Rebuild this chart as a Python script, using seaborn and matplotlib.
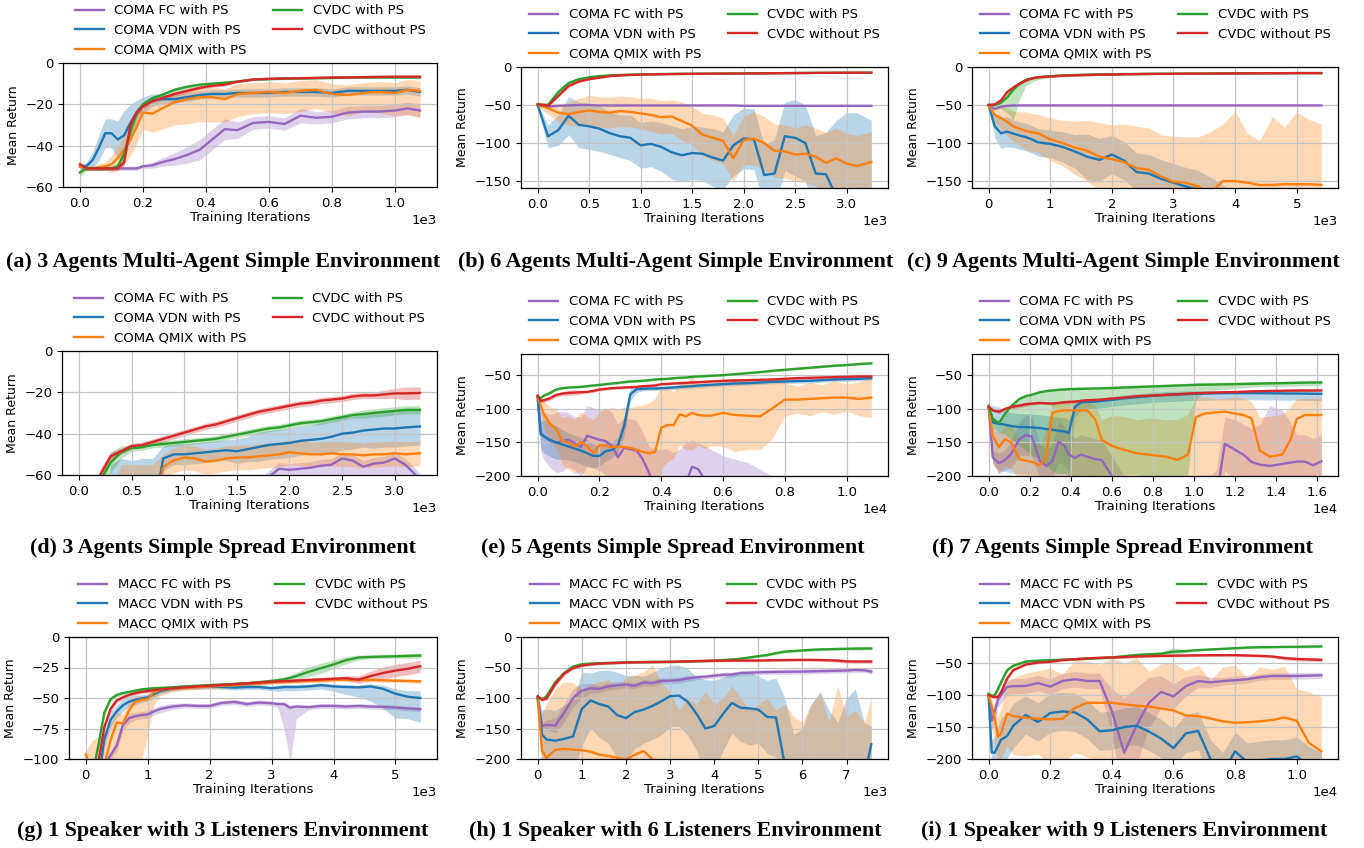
import matplotlib
matplotlib.use("Agg")
import matplotlib.pyplot as plt
import seaborn as sns
import numpy as np

# ---------------------------------------------------------------- labels
COMA_LABELS = ["COMA FC with PS", "COMA VDN with PS", "COMA QMIX with PS",
               "CVDC with PS", "CVDC without PS"]
MACC_LABELS = ["MACC FC with PS", "MACC VDN with PS", "MACC QMIX with PS",
               "CVDC with PS", "CVDC without PS"]
COLORS = ["tab:purple", "tab:blue", "tab:orange", "tab:green", "tab:red"]

CAPTIONS = [
    "(a) 3 Agents Multi-Agent Simple Environment",
    "(b) 6 Agents Multi-Agent Simple Environment",
    "(c) 9 Agents Multi-Agent Simple Environment",
    "(d) 3 Agents Simple Spread Environment",
    "(e) 5 Agents Simple Spread Environment",
    "(f) 7 Agents Simple Spread Environment",
    "(g) 1 Speaker with 3 Listeners Environment",
    "(h) 1 Speaker with 6 Listeners Environment",
    "(i) 1 Speaker with 9 Listeners Environment",
]

# ---------------------------------------------------------------- (a)
X_A = [0, 20, 40, 60, 80, 100, 120, 140, 160, 180, 200, 230, 260, 300, 340,
       380, 420, 460, 500, 550, 600, 650, 700, 750, 800, 850, 900, 950, 1000, 1040, 1080]
A_FC = [-50, -51, -51, -51, -51, -51, -51, -51, -51, -51, -50, -49.5, -48, -46.5, -44.5,
        -42, -37, -32, -32.5, -29, -28.5, -29.5, -25.5, -26.5, -26, -24, -23.5, -23.5, -23, -22, -23]
A_FC_SD = [1, 1, 1, 1, 1, 1, 1, 1, 1, 1, 1, 1.5, 2, 3, 4,
           5, 5, 5, 4, 3, 3, 3, 3.5, 3, 3, 3, 3, 3, 3, 3, 3]
A_VDN = [-50, -50, -47, -41, -34, -34, -37, -35, -29, -24, -20.5, -18, -17.5, -17.5, -16.5,
         -15.5, -15, -15, -14.5, -14.5, -14.5, -14, -14, -14, -14.5, -13.5, -13.5, -13.5, -13.5, -13, -14]
A_VDN_SD = [1, 2, 4, 6, 7, 7, 9, 12, 9, 6, 4, 3, 2.5, 2, 2,
            2, 2, 2, 2, 2, 2, 2, 2, 2, 2, 2, 2, 2, 2, 2, 2]
A_QMIX = [-50, -51, -51, -50.5, -50, -49, -46, -42, -37, -31, -24, -24.5, -22, -19, -17.5,
          -16.5, -16.5, -17.5, -15, -14.5, -14, -14.5, -13.5, -13, -15, -15.5, -14.5, -14, -14.5, -13, -13.5]
A_QMIX_UP = [1, 1, 1, 1.5, 2, 4, 6, 7, 8, 7, 6, 5, 5, 5, 5,
             5, 5, 5, 5, 5, 5, 5, 5, 5, 5, 5, 5, 5, 5, 5, 5]
A_QMIX_DOWN = [1, 1, 1, 1.5, 2, 4, 6, 7, 8, 8, 8, 9, 10, 11, 12,
               12, 12, 11, 11, 10, 10, 10, 10, 9, 9, 10, 9, 10, 11, 12, 13]
A_CVDC = [-53, -51, -51, -51, -51, -51, -50, -44, -33, -24, -20, -17, -15.5, -13, -11.5,
          -10.5, -10, -9.5, -9, -8, -7.8, -7.5, -7.5, -7.3, -7.2, -7, -7, -7, -7, -7, -7]
A_CVDC_SD = [2, 1, 1, 1, 1, 1, 1, 2, 3, 2, 1.5, 1, 1, 1, 1,
             0.8, 0.8, 0.7, 0.6, 0.5, 0.5, 0.5, 0.5, 0.5, 0.5, 0.5, 0.5, 0.5, 0.5, 0.5, 0.5]
A_NOPS = [-49, -51, -51, -51, -51, -51, -51, -48, -30, -24, -21, -18.5, -17, -15, -13.5,
          -12, -11, -10.5, -9, -8, -7.6, -7.5, -7.3, -7.2, -7, -7, -6.8, -6.7, -6.6, -6.6, -6.6]
A_NOPS_SD = [1, 1, 1, 1, 1, 1, 1, 2, 3, 2, 1.5, 1, 1, 1, 1,
             0.8, 0.8, 0.7, 0.6, 0.5, 0.5, 0.5, 0.5, 0.5, 0.5, 0.5, 0.5, 0.5, 0.5, 0.5, 0.5]

# ---------------------------------------------------------------- (b) and (d) share x
X_BD = [0, 100, 200, 300, 400, 500, 600, 700, 800, 900, 1000, 1100, 1200, 1300, 1400, 1500,
        1600, 1700, 1800, 1900, 2000, 2100, 2200, 2300, 2400, 2500, 2600, 2700, 2800, 2900,
        3000, 3100, 3240]
B_FC = [-50, -52, -51, -50.5, -50, -50, -50.5, -50.5, -50.5, -50.5, -50.5, -50.5, -50.5, -50.5,
        -50.5, -50.5, -50.5, -50.5, -50.5, -50.5, -51, -51, -51, -51, -51, -51, -51, -51, -51,
        -51, -51, -51, -51]
B_FC_SD = [0.5, 1, 1, 0.8, 0.7, 0.7, 0.7, 0.7, 0.7, 0.7, 0.7, 0.7, 0.7, 0.7, 0.7, 0.7,
           0.7, 0.7, 0.7, 0.7, 0.7, 0.7, 0.7, 0.7, 0.7, 0.7, 0.7, 0.7, 0.7, 0.7, 0.7, 0.7, 0.7]
B_VDN = [-50, -91, -83, -64, -76, -78, -81, -87, -91, -93, -103, -101, -105, -112, -116, -113,
         -114, -119, -123, -103, -94, -95, -142, -140, -91, -93, -100, -140, -141, -170,
         -190, -200, -200]
B_VDN_SD = [2, 15, 20, 25, 30, 30, 30, 28, 28, 30, 30, 30, 32, 35, 35, 35,
            35, 38, 38, 40, 40, 40, 40, 45, 45, 50, 50, 50, 55, 100, 130, 140, 130]
B_QMIX = [-50, -54, -60, -62, -59, -57, -59, -60, -58, -59, -61, -63, -66, -65, -71, -77,
          -89, -93, -97, -120, -96, -94, -100, -110, -111, -115, -114, -118, -126, -120,
          -127, -130, -125]
B_QMIX_SD = [2, 8, 12, 15, 18, 20, 20, 20, 20, 20, 20, 22, 22, 22, 25, 25,
             28, 30, 30, 30, 32, 35, 35, 35, 35, 35, 38, 38, 40, 40, 40, 40, 40]
B_CVDC = [-49, -50, -33, -21, -16, -13.5, -12, -11, -10.5, -10, -9.7, -9.5, -9.3, -9.1, -9,
          -8.9, -8.8, -8.7, -8.6, -8.5, -8.4, -8.3, -8.2, -8.1, -8, -7.9, -7.8, -7.7, -7.6,
          -7.6, -7.5, -7.5, -7.5]
B_CVDC_SD = [1, 1, 2, 2, 1.5, 1, 1, 0.8, 0.8, 0.8, 0.8, 0.8, 0.8, 0.8, 0.8, 0.8,
             0.8, 0.8, 0.8, 0.8, 0.8, 0.8, 0.8, 0.8, 0.8, 0.8, 0.8, 0.8, 0.8, 0.8, 0.8, 0.8, 0.8]
B_NOPS = [-49, -51, -38, -25, -19, -16, -14, -12, -11, -10.5, -10, -9.7, -9.5, -9.3, -9.1,
          -9, -8.9, -8.8, -8.7, -8.6, -8.5, -8.4, -8.3, -8.2, -8.1, -8, -7.9, -7.8, -7.7,
          -7.6, -7.5, -7.5, -7.4]
B_NOPS_SD = [1, 1, 2, 2, 1.5, 1, 1, 0.8, 0.8, 0.8, 0.8, 0.8, 0.8, 0.8, 0.8, 0.8,
             0.8, 0.8, 0.8, 0.8, 0.8, 0.8, 0.8, 0.8, 0.8, 0.8, 0.8, 0.8, 0.8, 0.8, 0.8, 0.8, 0.8]

# ---------------------------------------------------------------- (c)
X_C = [0, 100, 200, 300, 400, 500, 600, 700, 800, 1000, 1200, 1400, 1600, 1800, 2000,
       2200, 2400, 2600, 2800, 3000, 3200, 3400, 3600, 3800, 4000, 4200, 4400, 4600, 4800,
       5000, 5200, 5400]
C_FC = [-50, -55, -52, -51, -50.5, -50.5, -50.5, -50.5, -50.5, -50.5, -50.5, -50.5, -50.5,
        -50.5, -50.5, -50.5, -50.5, -50.5, -50.5, -50.5, -50.5, -50.5, -50.5, -50.5, -50.5,
        -50.5, -50.5, -50.5, -50.5, -50.5, -50.5, -50.5]
C_FC_SD = [0.5, 2, 1.5, 1, 0.6, 0.6, 0.6, 0.6, 0.6, 0.6, 0.6, 0.6, 0.6, 0.6, 0.6, 0.6,
           0.6, 0.6, 0.6, 0.6, 0.6, 0.6, 0.6, 0.6, 0.6, 0.6, 0.6, 0.6, 0.6, 0.6, 0.6, 0.6]
C_VDN = [-50, -78, -87, -85, -87.5, -90, -92, -95, -99, -101, -105, -111, -118, -122, -115,
         -123, -138, -140, -147, -152, -157, -161, -170, -180, -190, -200, -205, -210, -215,
         -220, -220, -220]
C_VDN_SD = [2, 15, 20, 20, 18, 18, 18, 18, 18, 18, 20, 22, 30, 28, 25, 25,
            25, 25, 25, 25, 25, 25, 25, 25, 25, 25, 25, 25, 25, 25, 25, 25]
C_QMIX = [-50, -63, -67, -72, -78, -81, -84, -86, -87, -95, -100, -106, -110, -118, -121,
          -125, -133, -135, -144, -151, -152, -157, -165, -150, -150, -152, -155, -155, -154,
          -154, -154, -155]
C_QMIX_SD = [2, 10, 15, 18, 20, 22, 25, 25, 25, 28, 30, 35, 40, 45, 45, 50,
             55, 55, 55, 60, 60, 65, 80, 75, 92, 65, 58, 90, 75, 95, 85, 80]
C_CVDC = [-50, -50, -47, -40, -30, -22, -17, -15, -13.5, -12, -11, -10.5, -10, -9.8, -9.5,
          -9.3, -9.2, -9, -8.9, -8.8, -8.7, -8.6, -8.5, -8.4, -8.3, -8.2, -8.2, -8.1, -8.1,
          -8, -8, -8]
C_CVDC_UP = [1, 1, 2, 3, 3, 3, 2, 1.5, 1, 1, 1, 1, 1, 1, 1, 1,
             1, 1, 1, 1, 1, 1, 1, 1, 1, 1, 1, 1, 1, 1, 1, 1]
C_CVDC_DOWN = [1, 2, 8, 20, 40, 20, 8, 5, 3, 2, 2, 1.5, 1.5, 1.5, 1, 1,
               1, 1, 1, 1, 1, 1, 1, 1, 1, 1, 1, 1, 1, 1, 1, 1]
C_NOPS = [-50, -49, -44, -33, -27, -22, -18, -15, -13.5, -12.5, -11.5, -11, -10.5, -10, -10,
          -9.5, -9.3, -9.1, -9, -8.9, -8.8, -8.7, -8.6, -8.5, -8.4, -8.3, -8.2, -8.2, -8.1,
          -8, -8, -8]
C_NOPS_SD = [1, 1, 2, 3, 3, 2, 1.5, 1, 1, 1, 1, 1, 1, 1, 1, 1,
             1, 1, 1, 1, 1, 1, 1, 1, 1, 1, 1, 1, 1, 1, 1, 1]

# ---------------------------------------------------------------- (d)
D_FC = [-200, -190, -180, -170, -160, -150, -140, -130, -120, -110, -100, -95, -90, -85,
        -80, -75, -70, -66, -61, -57, -57.5, -57, -56.5, -55.5, -55, -52, -53, -56, -54.5,
        -54, -52, -55, -62]
D_FC_UP = [3, 3, 3, 3, 3, 3, 3, 3, 3, 3, 3, 3, 3, 3, 3, 3,
           3, 3, 3, 3, 3, 3, 3, 3, 3, 3, 3, 3, 3, 3, 3, 3, 3]
D_FC_DOWN = [10, 10, 10, 10, 10, 10, 10, 10, 10, 10, 10, 10, 10, 10, 10, 10,
             10, 10, 8, 8, 8, 8, 8, 8, 8, 10, 10, 8, 8, 8, 10, 10, 10]
D_VDN = [-150, -140, -130, -115, -100, -95, -90, -80, -52, -50, -50, -49.5, -49, -48.5, -48,
         -48.5, -47.5, -46.5, -45.5, -45, -44.5, -43.5, -43, -42.5, -41.5, -40, -39.5, -38.5,
         -38, -37.5, -37.5, -37, -36.5]
D_VDN_SD = [5, 10, 20, 60, 48, 42, 38, 28, 6, 5, 5, 5, 5, 5, 5, 6,
            6, 7, 7, 7, 7, 7, 7, 8, 8, 8, 8, 8, 9, 9, 9, 9, 9]
D_QMIX = [-160, -150, -130, -110, -100, -95, -90, -85, -56, -53, -51.5, -52, -53.5, -53, -52,
          -51.5, -51.5, -51, -50.5, -50, -49, -49.5, -50, -50, -49.5, -50, -50, -50.5, -50,
          -50, -49.5, -50, -49.5]
D_QMIX_SD = [5, 5, 10, 40, 45, 40, 35, 30, 6, 6, 6, 6, 6, 6, 6, 6,
             6, 6, 6, 6, 6, 6, 6, 6, 6, 6, 6, 6, 6, 6, 6, 6, 6]
D_CVDC = [-120, -90, -63, -54, -49, -47, -46.5, -45.5, -45, -44.5, -44, -43.5, -43, -42.5,
          -41.5, -40.5, -39.5, -38.5, -37.5, -37, -36, -35, -34.5, -34, -33, -32, -31, -30.5,
          -30, -29.5, -29, -28.5, -28.5]
D_CVDC_SD = [3, 3, 4, 5, 3, 1.5, 1.5, 1.5, 1.5, 1.5, 1.5, 1.5, 1.5, 1.5, 1.5, 1.5,
             1.5, 1.5, 1.5, 1.5, 1.5, 1.5, 1.5, 1.5, 1.5, 1.5, 1.5, 2, 2, 2, 2, 2, 2]
D_NOPS = [-120, -85, -60, -51, -48.5, -46, -45.5, -44, -42.5, -41, -39.5, -38, -36.5, -35.5,
          -34, -32.5, -31, -29.5, -28.5, -27.5, -26.5, -25.5, -25, -24, -23.5, -23, -22,
          -21.5, -21.5, -21, -20.5, -20.5, -20.3]
D_NOPS_SD = [3, 3, 3, 2, 1.5, 1.5, 1.5, 1.5, 1.5, 1.5, 1.5, 1.5, 1.5, 1.5, 1.5, 1.5,
             1.5, 1.5, 1.5, 1.5, 1.5, 1.5, 1.5, 1.5, 1.5, 1.5, 1.5, 1.5, 1.5, 2, 2.5, 3, 3]

# ---------------------------------------------------------------- (e)
X_E = [0, 100, 200, 400, 600, 800, 1000, 1200, 1400, 1600, 1800, 2000, 2200, 2400, 2600,
       2800, 3000, 3200, 3400, 3600, 3800, 4000, 4200, 4400, 4600, 4800, 5000, 5200, 5400,
       5600, 6000, 6400, 6800, 7200, 7600, 8000, 8400, 8800, 9200, 9600, 10000, 10400, 10800]
E_FC = [-82, -135, -140, -148, -150, -148, -146, -151, -157, -140, -143, -146, -148, -155,
        -172, -158, -160, -162, -175, -195, -215, -230, -240, -240, -230, -210, -186, -190,
        -205, -220, -230, -240, -240, -240, -240, -240, -240, -240, -240, -240, -240, -240, -240]
E_FC_SD = [2, 30, 35, 40, 45, 45, 40, 40, 45, 45, 45, 45, 50, 50, 50, 45, 45, 45, 40, 40,
           55, 70, 80, 75, 70, 60, 40, 40, 50, 60, 60, 65, 60, 50, 40, 40, 40, 40, 40, 40,
           40, 40, 40]
E_VDN = [-82, -138, -141, -146, -150, -153, -156, -159, -162, -166, -170, -170, -163, -161,
         -154, -125, -78, -70.5, -70, -69.5, -69.5, -69, -68.5, -68, -67, -66.5, -66, -65,
         -64.5, -64, -63, -62, -61.5, -60.5, -59.5, -59, -58.5, -58, -57, -56, -55.5, -55, -54]
E_VDN_SD = [2, 20, 25, 25, 25, 22, 20, 20, 20, 20, 18, 15, 15, 12, 12, 15, 10, 5, 3, 3,
            3, 3, 3, 3, 3, 3, 3, 3, 3, 3, 3, 3, 3, 3, 3, 3, 3, 3, 3, 3, 3, 3, 3]
E_QMIX = [-82, -95, -108, -122, -130, -148, -150, -156, -149, -156, -166, -154, -155, -157,
          -156, -157, -158, -161, -164, -166, -164, -128, -124, -124, -108, -111, -106, -109,
          -110, -110, -106, -109, -110, -111, -99, -86, -86, -85, -84, -83, -83, -85, -83]
E_QMIX_SD = [2, 10, 20, 25, 30, 35, 40, 40, 45, 45, 50, 50, 55, 60, 55, 60, 60, 65, 70, 75,
             80, 62, 55, 50, 45, 50, 55, 45, 50, 45, 50, 55, 50, 50, 45, 25, 20, 25, 20, 25,
             20, 25, 30]
E_CVDC = [-82, -84, -80, -76, -71, -69, -68, -67.5, -67, -66, -65, -64, -63, -62, -61, -60,
          -59, -58.5, -58, -57, -56, -55.5, -55, -54, -53.5, -53, -52, -51.5, -51, -50.5,
          -49.5, -48, -46.5, -45, -43, -41.5, -40, -38.5, -37, -35.5, -34.5, -33, -32]
E_CVDC_SD = [2, 2, 2, 2, 1.5, 1.5, 1.5, 1.5, 1.5, 1.5, 1.5, 1.5, 1.5, 1.5, 1.5, 1.5, 1.5,
             1.5, 1.5, 1.5, 1.5, 1.5, 1.5, 1.5, 1.5, 1.5, 1.5, 1.5, 1.5, 1.5, 1.5, 1.5, 1.5,
             1.5, 1.5, 1.5, 1.5, 1.5, 1.5, 1.5, 1.5, 1.5, 1.5]
E_NOPS = [-80, -88, -87, -84, -79, -77, -76, -75.5, -75, -74.5, -73, -71, -70, -69, -68.5,
          -68, -67.5, -67, -66, -65.5, -65, -63, -62.5, -62, -61.5, -61, -60.5, -60, -59.5,
          -59, -58, -57.5, -57, -56.5, -56, -55, -54, -53.5, -53, -52.5, -52, -51.5, -51.5]
E_NOPS_SD = [2, 3, 3, 3, 3, 3, 4, 4, 3, 2, 2, 2, 2, 2, 2, 2, 2, 2, 2, 2, 2, 2, 2, 2, 2,
             2, 2, 2, 2, 2, 2, 2, 2, 2, 2, 2, 2, 2, 2, 2, 2, 3, 3]

# ---------------------------------------------------------------- (f)
X_F = [0, 200, 500, 800, 1100, 1500, 1800, 2100, 2500, 2800, 3100, 3400, 3700, 3900, 4200,
       4500, 4800, 5200, 5500, 6000, 6600, 7200, 7900, 8600, 9200, 9700, 10100, 10500, 11100,
       11500, 12000, 12400, 12800, 13200, 13700, 14300, 14700, 15000, 15400, 15800, 16200]
F_FC = [-97, -172, -181, -176, -167, -145, -139, -141, -178, -185, -178, -149, -155, -168,
        -173, -168, -171, -175, -176, -200, -230, -240, -240, -240, -240, -240, -240, -240,
        -230, -152, -161, -168, -179, -183, -185, -182, -180, -178.5, -178.5, -184, -178]
F_FC_SD = [2, 10, 15, 15, 20, 25, 30, 30, 25, 25, 25, 30, 30, 30, 30, 30, 30, 30, 30, 30,
           30, 30, 30, 30, 30, 30, 30, 30, 40, 40, 45, 45, 50, 60, 90, 80, 60, 40, 40, 40, 40]
F_VDN = [-97, -120, -122, -123.5, -125.5, -127, -127, -127.5, -128.6, -130, -131, -132.5,
         -133.5, -136, -97, -90, -89.5, -89, -88, -86.5, -84, -82.5, -80.5, -79, -78.5,
         -77.6, -77.2, -77, -76.5, -76.4, -76.4, -76.4, -76.4, -76.5, -76.6, -76.8, -77, -77,
         -77.2, -77.4, -77.5]
F_VDN_UP = [2, 25, 25, 20, 20, 20, 20, 20, 20, 20, 20, 20, 20, 20, 8, 6, 5, 5, 5, 5,
            5, 5, 5, 5, 5, 5, 4, 4, 4, 4, 4, 4, 4, 4, 4, 4, 4, 4, 4, 4, 4]
F_VDN_DOWN = [2, 60, 70, 70, 70, 70, 70, 70, 70, 70, 70, 65, 65, 60, 15, 12, 10, 10, 10, 10,
              10, 10, 10, 10, 10, 10, 10, 10, 10, 10, 10, 10, 10, 10, 10, 10, 10, 10, 10, 10, 10]
F_QMIX = [-97, -140, -157, -145, -150, -175, -177, -179, -184, -172, -106, -103, -102, -102,
          -102, -102, -102, -116, -146, -155, -161, -166, -168.5, -171, -176, -168, -112,
          -107, -105, -104, -107, -109, -114, -162, -171, -168, -146, -115, -109, -109, -109]
F_QMIX_UP = [2, 15, 20, 20, 25, 30, 30, 30, 30, 40, 15, 15, 15, 15, 15, 15, 15, 20, 30, 45,
             50, 50, 55, 55, 60, 60, 30, 25, 20, 20, 25, 25, 25, 50, 60, 60, 50, 30, 25, 25, 25]
F_QMIX_DOWN = [2, 40, 40, 40, 40, 30, 30, 30, 25, 30, 100, 100, 100, 100, 100, 100, 100, 90,
               60, 50, 45, 40, 40, 35, 30, 40, 90, 100, 100, 100, 100, 100, 95, 50, 40, 40,
               60, 90, 95, 95, 95]
F_CVDC = [-95, -115, -121, -107, -96, -85, -81, -79, -75, -73.5, -72.5, -71.5, -71, -70.5,
          -70.3, -70, -69.8, -69.5, -69.2, -68.8, -68, -67.3, -66.5, -65.8, -65, -64.5, -64,
          -63.8, -63.5, -63.2, -63, -62.7, -62.4, -62.1, -61.8, -61.5, -61.2, -61, -60.8,
          -60.6, -60.5]
F_CVDC_UP = [2, 3, 3, 3, 3, 3, 3, 3, 3, 3, 3, 3, 3, 3, 3, 3, 3, 3, 3, 3,
             3, 3, 3, 3, 3, 3, 3, 3, 3, 3, 3, 3, 3, 3, 3, 3, 3, 3, 3, 3, 3]
F_CVDC_DOWN = [2, 10, 15, 30, 50, 70, 80, 90, 100, 110, 120, 125, 125, 130, 130, 130, 130,
               130, 130, 130, 130, 130, 135, 135, 135, 135, 20, 12, 8, 8, 6, 6, 5, 5, 5, 5,
               5, 5, 5, 5, 5]
F_NOPS = [-97, -102, -104, -100, -97, -95, -93, -92, -91, -91.5, -92, -91, -90, -89.5, -89,
          -88, -87, -86.5, -86, -84.5, -83, -81, -80, -79, -78, -77, -76.4, -76, -75.5, -75,
          -74.8, -74.3, -73.8, -73.5, -73, -72.8, -72.6, -72.5, -72.4, -72.4, -72.4]
F_NOPS_SD = [2, 2, 3, 3, 3, 3, 3, 2, 2, 2, 2, 2, 2, 2, 2, 2, 2, 2, 2, 2,
             2, 2, 2, 2, 2, 2, 2, 2, 2, 2, 2, 2, 2, 2, 2, 2, 2, 2, 2, 2, 2]

# ---------------------------------------------------------------- (g)
X_G = [0, 100, 200, 300, 400, 500, 600, 700, 800, 900, 1000, 1100, 1200, 1400, 1600, 1800,
       2000, 2200, 2400, 2600, 2800, 3000, 3100, 3200, 3300, 3400, 3600, 3800, 4000, 4200,
       4400, 4600, 4800, 5000, 5200, 5400]
G_FC = [-150, -145, -130, -105, -97, -89, -72, -66.5, -65, -64, -63.4, -61, -59, -57, -56,
        -56.5, -56.5, -54, -53.2, -55, -53.7, -54.3, -55, -55, -58, -57, -57.5, -56.5, -56.5,
        -57, -56.5, -57, -57.3, -57.8, -58.5, -59.2]
G_FC_UP = [2, 2, 2, 2, 3, 5, 5, 4, 3, 3, 3, 3, 3, 2.5, 2, 2, 2, 2,
           2, 2, 2, 2, 2, 2, 2, 2, 2, 2, 2, 2, 2, 2, 2, 2, 2, 2]
G_FC_DOWN = [2, 2, 2, 2, 3, 5, 5, 4, 3, 3, 3, 3, 3, 2.5, 2, 2, 2, 2,
             2, 2, 2, 2, 3, 20, 45, 10, 2, 2, 2, 2, 2, 2, 2, 2, 2, 2]
G_VDN = [-150, -140, -120, -84, -68, -61, -56, -53, -51.5, -50.5, -49.5, -47, -44.5, -42,
         -41, -41, -40.5, -41, -41.5, -41, -41, -42, -41.5, -41, -41, -41, -40.5, -39.5,
         -40.5, -41, -41.3, -40.5, -42.5, -46.5, -49, -50]
G_VDN_UP = [2, 2, 3, 6, 6, 5, 5, 4, 4, 3, 3, 3, 2, 2, 2, 2, 2, 2,
            2, 2, 2, 2, 2, 2, 2, 2, 2, 2, 2, 2, 2, 2, 3, 4, 5, 6]
G_VDN_DOWN = [2, 2, 3, 6, 6, 5, 5, 4, 4, 3, 3, 3, 2, 2, 2, 2, 2, 2,
              2, 2, 2, 2, 3, 3, 3, 3, 3, 3, 4, 6, 8, 12, 16, 20, 18, 20]
G_QMIX = [-96, -110, -115, -105, -85, -70, -71, -60, -53, -51.5, -51, -45.5, -43.3, -42,
          -41.5, -41, -40.5, -40, -39.5, -38.5, -38, -37.2, -37, -36.8, -36.6, -36.4, -36,
          -35.6, -35.2, -35, -35, -35.2, -35.5, -35.8, -36, -36.4]
G_QMIX_UP = [2, 25, 33, 25, 15, 8, 8, 6, 4, 4, 3, 3, 2, 2, 2, 2, 2, 2,
             2, 2, 1.5, 1.5, 1.5, 1.5, 1.5, 1.5, 1.5, 1.5, 1.5, 1.5, 1.5, 1.5, 1.5, 1.5, 1.5, 1.5]
G_QMIX_DOWN = [2, 25, 33, 30, 25, 30, 35, 45, 50, 50, 30, 10, 5, 3, 2, 2, 2, 2,
               2, 2, 1.5, 1.5, 1.5, 1.5, 1.5, 1.5, 1.5, 1.5, 1.5, 1.5, 1.5, 1.5, 1.5, 1.5, 1.5, 1.5]
G_CVDC = [-130, -115, -90, -62, -51, -47.5, -46, -45, -44, -43, -42.5, -42, -41.8, -41.3,
          -40.5, -40, -39.4, -39, -38.5, -38, -37, -36, -35.5, -34.7, -33.5, -32, -28.5,
          -25.5, -22.5, -19, -16.8, -16.3, -16, -15.8, -15.5, -15.2]
G_CVDC_SD = [2, 2, 2, 3, 2, 1.5, 1.5, 1.5, 1.5, 1.5, 1.5, 1.5, 1.5, 1.5, 1.5, 1.5, 1.5, 1.5,
             1.5, 1.5, 1.5, 1.5, 2, 2, 2.5, 3, 4, 4, 3.5, 3, 2, 1.5, 1.5, 1.5, 2, 2]
G_NOPS = [-140, -125, -104, -74, -59, -52, -49.5, -47.5, -46, -45, -44.3, -43.5, -43, -42,
          -41.2, -40.5, -40, -39.3, -38.7, -38, -37.3, -36.7, -36.4, -36.2, -36, -35.7,
          -35.2, -34.7, -34.2, -33.8, -35, -32, -29.5, -27.5, -26, -24]
G_NOPS_SD = [2, 2, 2, 3, 3, 2, 1.5, 1.5, 1.5, 1.5, 1.5, 1.5, 1.5, 1.5, 1.5, 1.5, 1.5, 1.5,
             1.5, 1.5, 1.5, 1.5, 1.5, 1.5, 1.5, 1.5, 1.5, 1.5, 1.5, 2, 3, 4, 5, 5, 5, 5]

# ---------------------------------------------------------------- (h)
X_H = [0, 100, 200, 400, 600, 800, 1000, 1200, 1400, 1600, 1800, 2000, 2200, 2400, 2600,
       2800, 3000, 3200, 3400, 3600, 3800, 4000, 4200, 4400, 4600, 4800, 5000, 5200, 5400,
       5600, 5800, 6000, 6200, 6400, 6600, 6800, 7000, 7200, 7400, 7560]
H_FC = [-100, -146, -144, -145, -124, -100, -88, -84, -85, -81, -79, -78, -80, -74.5, -75.5,
        -72, -71.6, -70.5, -68, -66, -65, -63.4, -62, -61.5, -59, -58.5, -57.9, -57.5, -57.2,
        -57, -56.8, -56.7, -56.3, -56, -55.6, -55.3, -55, -54, -54.5, -56.7]
H_FC_SD = [2, 5, 8, 12, 15, 15, 12, 8, 6, 6, 6, 5, 5, 5, 5, 5, 5, 5, 5, 4,
           4, 4, 4, 4, 4, 4, 4, 4, 4, 4, 4, 4, 4, 4, 4, 4, 4, 4, 4, 4]
H_VDN = [-100, -160, -168, -170, -167, -163, -118, -104, -110, -114, -128, -133, -123, -119,
         -113, -105.5, -97, -96, -106, -126, -150, -146, -126, -108, -116, -117, -119, -131,
         -132, -210, -240, -240, -240, -240, -240, -240, -240, -240, -230, -176]
H_VDN_SD = [2, 40, 50, 50, 55, 60, 60, 45, 55, 60, 70, 70, 60, 55, 55, 55, 50, 50, 55, 60,
            80, 75, 60, 50, 55, 60, 55, 60, 65, 110, 80, 90, 130, 150, 120, 100, 140, 155, 90, 30]
H_QMIX = [-100, -187, -198, -185, -183.5, -184.6, -185.7, -188, -193, -195, -198, -201, -193,
          -187, -200, -215, -240, -250, -250, -250, -250, -250, -250, -250, -250, -250, -250,
          -250, -250, -250, -250, -250, -250, -250, -250, -250, -250, -250, -250, -250]
H_QMIX_SD = [2, 60, 90, 100, 110, 110, 100, 110, 120, 125, 115, 135, 130, 130, 155, 140, 150,
             130, 150, 140, 160, 140, 150, 170, 150, 130, 140, 150, 130, 140, 120, 110, 140,
             160, 110, 170, 120, 130, 110, 150]
H_CVDC = [-100, -102, -97, -74, -59, -48.5, -44.6, -43.5, -43, -42.5, -42, -41.3, -41.2, -41.1,
          -41, -40.9, -40.8, -40.5, -40.2, -39.7, -39.2, -38.6, -37.8, -36.8, -35.5, -33.5,
          -31.4, -29.5, -26.5, -24, -23, -22, -21, -20.4, -20, -19.6, -19.3, -19, -18.8, -18.7]
H_CVDC_SD = [2, 2, 3, 4, 3, 2, 1.5, 1.5, 1.5, 1.5, 1.5, 1.5, 1.5, 1.5, 1.5, 1.5, 1.5, 1.5,
             1.5, 1.5, 1.5, 1.5, 1.5, 2, 2, 2, 2, 2, 2, 2, 2, 2, 2, 2, 2, 2, 2, 2.5, 2.5, 2.5]
H_NOPS = [-97, -103, -101, -77, -60, -51, -46.8, -45, -43.5, -43, -42.5, -41.9, -41.5, -41.2,
          -41, -40.8, -40.6, -40.2, -39.8, -39.5, -39.2, -39, -38.8, -38.7, -38.6, -38.6,
          -38.6, -38.3, -38, -37.8, -37.6, -37.5, -37.5, -37.7, -38.2, -38.6, -40, -40.2,
          -40.2, -40.2]
H_NOPS_SD = [2, 2, 3, 4, 3, 2, 2, 2, 2, 2, 2, 2, 2, 2, 2, 2, 2, 2, 2, 2,
             2, 2, 2, 2, 2, 2, 2, 2, 2, 2, 2, 2, 2, 2, 2, 3, 3, 3, 3, 3]

# ---------------------------------------------------------------- (i)
X_I = [0, 100, 200, 300, 400, 600, 800, 1200, 1600, 2000, 2400, 2800, 3200, 3600, 4000,
       4400, 4800, 5200, 5600, 6000, 6400, 6800, 7200, 7600, 8000, 8400, 8800, 9200, 9600,
       10000, 10400, 10800]
I_FC = [-102, -140, -125, -108, -100, -87, -86, -85.7, -81, -86.7, -77.8, -75.2, -77.8,
        -77.8, -125, -190, -148, -112, -95, -102, -86, -78, -80, -78, -76.7, -75, -72, -70,
        -70, -70, -69.5, -69]
I_FC_SD = [2, 15, 15, 12, 12, 12, 12, 12, 12, 12, 12, 12, 12, 12, 35, 85,
           60, 40, 25, 20, 15, 10, 8, 6, 6, 6, 5, 5, 5, 5, 5, 5]
I_VDN = [-102, -190, -190, -180, -170, -164, -148, -131, -142, -128, -125.5, -127, -138,
         -156.5, -155, -150, -148, -157, -168, -183, -160, -156, -200, -220, -188, -205, -202,
         -200, -200, -196, -210, -220]
I_VDN_SD = [2, 20, 25, 30, 35, 35, 35, 30, 30, 30, 30, 30, 30, 30, 30, 30,
            30, 30, 30, 30, 30, 30, 30, 30, 30, 30, 30, 30, 30, 30, 30, 30]
I_QMIX = [-100, -118, -136, -165, -160, -129, -133, -135.5, -137, -138, -137, -120, -112,
          -112, -112, -114.5, -116.5, -118, -121, -124, -131.8, -133, -136.5, -141, -143.3,
          -142.5, -141, -139, -135, -140, -175, -188]
I_QMIX_UP = [2, 10, 20, 30, 40, 50, 60, 70, 75, 80, 70, 75, 65, 60, 70, 65,
             75, 55, 70, 75, 70, 80, 60, 85, 90, 70, 85, 80, 80, 50, 80, 85]
I_QMIX_DOWN = [2, 30, 40, 40, 40, 50, 60, 60, 55, 70, 70, 70, 85, 90, 90, 90,
               85, 85, 85, 85, 80, 80, 70, 70, 70, 70, 70, 70, 70, 70, 40, 30]
I_CVDC = [-98, -101, -100, -91, -80, -61, -54, -47.5, -46, -45.3, -44.5, -43.7, -43, -42,
          -41, -39, -37, -36, -35, -32, -31, -29.5, -28.5, -27.5, -26.5, -25.5, -25, -24.8,
          -24.5, -24.3, -24, -23.8]
I_CVDC_SD = [2, 2, 3, 4, 4, 3, 2, 1.5, 1.5, 1.5, 1.5, 1.5, 1.5, 1.5, 1.5, 1.5,
             1.5, 1.5, 2, 6, 2, 1.5, 1.5, 1.5, 1.5, 1.5, 1.5, 1.5, 1.5, 2, 2, 2]
I_NOPS = [-100, -102, -103, -103, -96, -74, -61, -52, -49, -47.9, -45, -43.7, -42.5, -41.5,
          -41, -40.5, -39.5, -39, -38.5, -38.3, -38, -37.7, -37.5, -37.4, -37.4, -38, -38.5,
          -39.5, -42, -43.5, -44, -44.8]
I_NOPS_SD = [2, 2, 3, 4, 4, 3, 2, 2, 2, 2, 2, 2, 2, 2, 2, 2,
             2, 2, 2, 2, 2, 2, 2, 2, 2, 2, 2, 2, 3, 3, 3, 3]

# ---------------------------------------------------------------- layout (pixels)
W, H = 1364, 848
# axes boxes: left, top, right, bottom
BOXES = [(63, 63, 437, 187), (521, 67, 888, 188), (972, 67, 1338, 188),
         (62, 351, 437, 475), (521, 354, 888, 476), (972, 354, 1338, 476),
         (69, 637, 437, 759), (521, 637, 888, 759), (972, 637, 1338, 759)]
CAPTION_XY = [(223, 262), (676, 262), (1123, 262),
              (223, 548), (673, 548), (1122, 548),
              (223, 831), (675, 831), (1124, 831)]

PANELS = [
    dict(x=X_A, labels=COMA_LABELS, ylim=(-60, 0), yticks=[-60, -40, -20, 0],
         series=[(A_FC, A_FC_SD), (A_VDN, A_VDN_SD), (A_QMIX, A_QMIX_UP, A_QMIX_DOWN),
                 (A_CVDC, A_CVDC_SD), (A_NOPS, A_NOPS_SD)]),
    dict(x=X_BD, labels=COMA_LABELS, ylim=(-159, 0), yticks=[-150, -100, -50, 0],
         series=[(B_FC, B_FC_SD), (B_VDN, B_VDN_SD), (B_QMIX, B_QMIX_SD),
                 (B_CVDC, B_CVDC_SD), (B_NOPS, B_NOPS_SD)]),
    dict(x=X_C, labels=COMA_LABELS, ylim=(-159, 0), yticks=[-150, -100, -50, 0],
         series=[(C_FC, C_FC_SD), (C_VDN, C_VDN_SD), (C_QMIX, C_QMIX_SD),
                 (C_CVDC, C_CVDC_UP, C_CVDC_DOWN), (C_NOPS, C_NOPS_SD)]),
    dict(x=X_BD, labels=COMA_LABELS, ylim=(-60, 0), yticks=[-60, -40, -20, 0],
         series=[(D_FC, D_FC_UP, D_FC_DOWN), (D_VDN, D_VDN_SD), (D_QMIX, D_QMIX_SD),
                 (D_CVDC, D_CVDC_SD), (D_NOPS, D_NOPS_SD)]),
    dict(x=X_E, labels=COMA_LABELS, ylim=(-200, -18), yticks=[-200, -150, -100, -50],
         series=[(E_FC, E_FC_SD), (E_VDN, E_VDN_SD), (E_QMIX, E_QMIX_SD),
                 (E_CVDC, E_CVDC_SD), (E_NOPS, E_NOPS_SD)]),
    dict(x=X_F, labels=COMA_LABELS, ylim=(-200, -18), yticks=[-200, -150, -100, -50],
         series=[(F_FC, F_FC_SD), (F_VDN, F_VDN_UP, F_VDN_DOWN), (F_QMIX, F_QMIX_UP, F_QMIX_DOWN),
                 (F_CVDC, F_CVDC_UP, F_CVDC_DOWN), (F_NOPS, F_NOPS_SD)]),
    dict(x=X_G, labels=MACC_LABELS, ylim=(-100, 0), yticks=[-100, -75, -50, -25, 0],
         series=[(G_FC, G_FC_UP, G_FC_DOWN), (G_VDN, G_VDN_UP, G_VDN_DOWN),
                 (G_QMIX, G_QMIX_UP, G_QMIX_DOWN), (G_CVDC, G_CVDC_SD), (G_NOPS, G_NOPS_SD)]),
    dict(x=X_H, labels=MACC_LABELS, ylim=(-200, 0), yticks=[-200, -150, -100, -50, 0],
         series=[(H_FC, H_FC_SD), (H_VDN, H_VDN_SD), (H_QMIX, H_QMIX_SD),
                 (H_CVDC, H_CVDC_SD), (H_NOPS, H_NOPS_SD)]),
    dict(x=X_I, labels=MACC_LABELS, ylim=(-200, -9), yticks=[-200, -150, -100, -50],
         series=[(I_FC, I_FC_SD), (I_VDN, I_VDN_SD), (I_QMIX, I_QMIX_UP, I_QMIX_DOWN),
                 (I_CVDC, I_CVDC_SD), (I_NOPS, I_NOPS_SD)]),
]

FS = 9.5
plt.rcParams.update({
    "font.family": "DejaVu Sans",
    "font.size": FS,
    "axes.grid": True,
    "grid.color": "#c4c4c4",
    "grid.linewidth": 0.9,
    "axes.linewidth": 0.9,
})


def draw_panel(fig, idx, p):
    left, top, right, bottom = BOXES[idx]
    ax = fig.add_axes([left / W, 1 - bottom / H, (right - left) / W, (bottom - top) / H])
    x = np.asarray(p["x"], dtype=float)
    for k, (s, label, color) in enumerate(zip(p["series"], p["labels"], COLORS)):
        y = np.asarray(s[0], dtype=float)
        up = np.asarray(s[1], dtype=float)
        down = np.asarray(s[2] if len(s) > 2 else s[1], dtype=float)
        if not (len(y) == len(x) == len(up) == len(down)):
            raise ValueError(f"panel {idx} series {k}: {len(x)} {len(y)} {len(up)} {len(down)}")
        ax.fill_between(x, y - down, y + up, color=color, alpha=0.3, linewidth=0)
        sns.lineplot(x=x, y=y, ax=ax, color=color, label=label, linewidth=1.7,
                     errorbar=None)
    ax.set_ylim(*p["ylim"])
    ax.set_yticks(p["yticks"])
    ax.ticklabel_format(axis="x", style="sci", scilimits=(0, 0))
    ax.set_xlabel("Training Iterations", fontsize=FS, labelpad=1)
    ax.set_ylabel("Mean Return", fontsize=9)
    ax.tick_params(labelsize=FS)
    ax.xaxis.get_offset_text().set_fontsize(FS)
    ax.legend(loc="lower center", bbox_to_anchor=(0.5, 1.0), ncol=2, frameon=False,
              fontsize=FS, handlelength=2.2, columnspacing=2.0, labelspacing=0.5,
              borderaxespad=0.1)
    cx, cy = CAPTION_XY[idx]
    fig.text(cx / W, 1 - cy / H, CAPTIONS[idx], ha="center", va="center",
             family=["Liberation Serif", "DejaVu Serif"], fontweight="bold", fontsize=15.8)


fig = plt.figure(figsize=(W / 100, H / 100), dpi=100)
for i, panel in enumerate(PANELS):
    draw_panel(fig, i, panel)

fig.savefig("out.png", dpi=100)
